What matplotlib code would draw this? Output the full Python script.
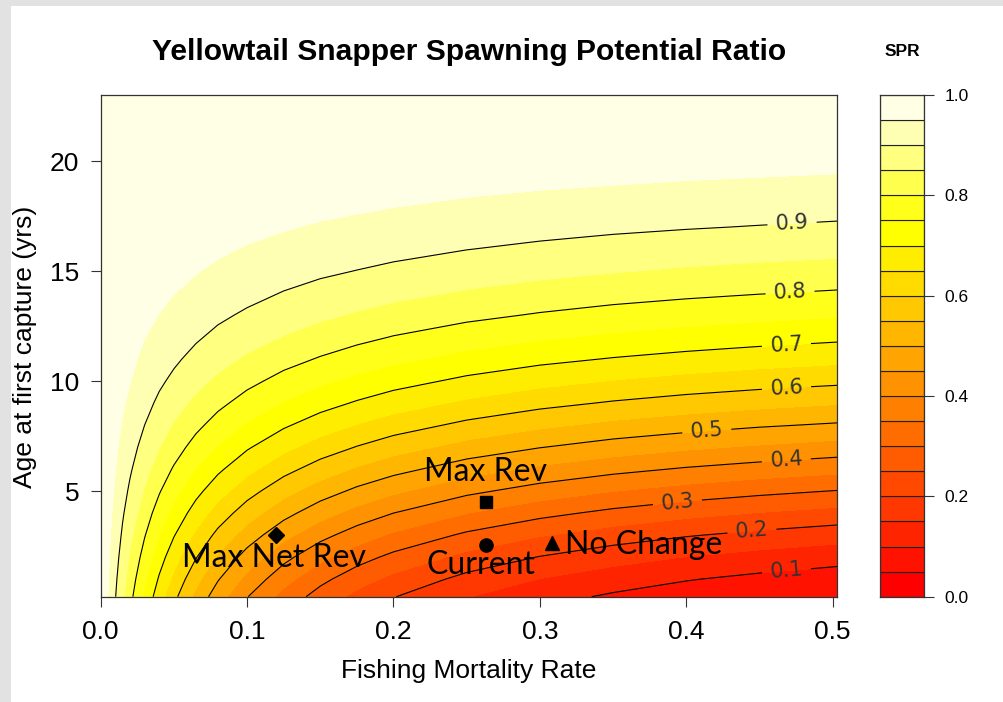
import numpy as np
import matplotlib
matplotlib.use('Agg')
import matplotlib.pyplot as plt
from matplotlib.colors import hsv_to_rgb
from matplotlib.patches import Rectangle

# ---------------- data ----------------
fishing_mortality = [0, 0.005, 0.01, 0.015, 0.02, 0.03, 0.04, 0.05, 0.065, 0.08, 0.1,
                     0.125, 0.15, 0.175, 0.2, 0.25, 0.3, 0.35, 0.4, 0.45, 0.503]
age_first_capture = [0.2, 1, 2, 3, 4, 5, 6, 7, 8, 9, 10, 11, 12, 13, 14, 15, 16, 17,
                     18, 19, 20, 21.5, 23]
# SPR x 1000, one row per age at first capture, one column per fishing mortality
spr_x1000 = [
    [1000, 949, 902, 857, 815, 739, 672, 613, 537, 473, 402, 333, 279, 236, 202, 152, 117, 93, 75, 62, 51],
    [1000, 953, 909, 867, 828, 757, 694, 638, 565, 504, 436, 368, 314, 271, 237, 185, 149, 123, 103, 88, 76],
    [1000, 958, 918, 880, 845, 780, 722, 670, 603, 545, 480, 415, 363, 321, 287, 235, 198, 170, 149, 132, 118],
    [1000, 962, 927, 893, 861, 803, 750, 703, 641, 587, 527, 465, 416, 376, 342, 291, 254, 226, 204, 187, 172],
    [1000, 967, 935, 905, 877, 825, 777, 735, 678, 629, 574, 517, 470, 432, 400, 351, 315, 287, 265, 248, 233],
    [1000, 971, 943, 917, 892, 846, 804, 765, 715, 670, 620, 567, 525, 489, 459, 412, 378, 351, 330, 313, 298],
    [1000, 975, 951, 928, 906, 865, 828, 795, 749, 710, 664, 617, 577, 544, 517, 473, 440, 415, 395, 379, 365],
    [1000, 978, 957, 938, 919, 883, 851, 822, 782, 747, 706, 663, 628, 598, 572, 532, 502, 478, 459, 444, 430],
    [1000, 981, 964, 947, 931, 900, 872, 846, 812, 781, 745, 707, 675, 648, 625, 588, 560, 538, 521, 506, 494],
    [1000, 984, 969, 955, 941, 915, 891, 869, 839, 812, 781, 747, 719, 695, 674, 641, 615, 595, 579, 566, 554],
    [1000, 987, 974, 962, 951, 929, 908, 890, 864, 841, 813, 784, 759, 738, 719, 689, 666, 648, 633, 621, 611],
    [1000, 989, 979, 969, 959, 941, 924, 908, 886, 866, 843, 817, 796, 777, 761, 734, 713, 697, 684, 673, 663],
    [1000, 991, 983, 974, 967, 951, 937, 924, 906, 889, 869, 848, 829, 813, 798, 775, 757, 742, 730, 720, 711],
    [1000, 993, 986, 979, 973, 961, 949, 938, 923, 909, 893, 875, 859, 845, 832, 812, 796, 783, 772, 763, 755],
    [1000, 994, 989, 984, 979, 969, 960, 951, 939, 927, 914, 898, 885, 873, 863, 845, 831, 819, 810, 802, 795],
    [1000, 996, 991, 987, 983, 976, 968, 962, 952, 943, 932, 919, 908, 899, 890, 875, 863, 853, 844, 837, 831],
    [1000, 997, 994, 990, 987, 982, 976, 971, 963, 956, 947, 938, 929, 921, 914, 901, 891, 882, 875, 869, 864],
    [1000, 998, 995, 993, 991, 987, 982, 978, 973, 967, 961, 953, 946, 940, 934, 924, 916, 909, 903, 898, 893],
    [1000, 998, 997, 995, 994, 991, 988, 985, 981, 977, 972, 966, 961, 957, 952, 944, 938, 932, 927, 923, 919],
    [1000, 999, 998, 997, 996, 994, 992, 990, 987, 985, 981, 977, 974, 970, 967, 961, 956, 952, 948, 945, 942],
    [1000, 999, 999, 998, 997, 996, 995, 994, 992, 991, 989, 986, 984, 981, 979, 976, 972, 969, 966, 964, 961],
    [1000, 1000, 1000, 999, 999, 999, 998, 998, 997, 997, 996, 995, 994, 993, 993, 991, 989, 988, 987, 986, 984],
    [1000, 1000, 1000, 1000, 1000, 1000, 1000, 1000, 1000, 1000, 1000, 1000, 999, 999, 999, 999, 999, 999, 998, 998, 998],
]
fill_levels = [0.00, 0.05, 0.10, 0.15, 0.20, 0.25, 0.30, 0.35, 0.40, 0.45, 0.50,
               0.55, 0.60, 0.65, 0.70, 0.75, 0.80, 0.85, 0.90, 0.95, 1.00]
line_levels = [0.1, 0.2, 0.3, 0.4, 0.5, 0.6, 0.7, 0.8, 0.9]
x_ticks = [0.0, 0.1, 0.2, 0.3, 0.4, 0.5]
y_ticks = [5, 10, 15, 20]
key_ticks = [0.0, 0.2, 0.4, 0.6, 0.8, 1.0]

scenario_names = ["Max Net Rev", "Max Rev", "Current", "No Change"]
scenario_F = [0.1196, 0.2634, 0.2634, 0.3083]
scenario_tc = [2.99, 4.51, 2.57, 2.65]

title = "Yellowtail Snapper Spawning Potential Ratio"
x_label = "Fishing Mortality Rate"
y_label = "Age at first capture (yrs)"
key_title = "SPR"

# ---------------- styling ----------------
W, H = 1004, 702
fig = plt.figure(figsize=(W / 100, H / 100), dpi=100)
fig.patch.set_facecolor('#e2e2e2')
fig.add_artist(Rectangle((11 / W, 0), 1, (H - 6) / H, transform=fig.transFigure,
                         facecolor='white', edgecolor='none', zorder=0))

# R heat.colors(20)
n = len(fill_levels) - 1
j = n // 4
i = n - j
heat = [hsv_to_rgb((h, 1, 1)) for h in np.linspace(0, 1 / 6, i)]
heat += [hsv_to_rgb((1 / 6, s, 1)) for s in np.linspace(1 - 1 / (2 * j), 1 / (2 * j), j)]

def fx(px):
    return px / W

def fy(py):
    return 1 - py / H

left, right, top, bottom = 100.7, 837.0, 95.0, 596.7
ax = fig.add_axes([fx(left), fy(bottom), fx(right) - fx(left), fy(top) - fy(bottom)])

Z = np.array(spr_x1000) / 1000.0
ax.contourf(fishing_mortality, age_first_capture, Z, levels=fill_levels, colors=heat)
cs = ax.contour(fishing_mortality, age_first_capture, Z, levels=line_levels,
                colors='black', linewidths=0.8)
label_pos = [(0.4684, 1.48), (0.445, 3.11), (0.394, 4.48), (0.4684, 6.39), (0.414, 7.75),
             (0.4684, 9.8), (0.4684, 11.7), (0.471, 13.93), (0.4725, 16.9)]
ax.clabel(cs, inline=True, fmt='%.1f', fontsize=15, colors='#333333',
          manual=label_pos, inline_spacing=8)

ax.set_xlim(0, 0.503)
ax.set_ylim(0.2, 23)
ax.set_xticks(x_ticks)
ax.set_xticklabels(["%.1f" % v for v in x_ticks])
ax.set_yticks(y_ticks)
ax.set_yticklabels(["%d" % v for v in y_ticks])
for lab in ax.get_xticklabels() + ax.get_yticklabels():
    lab.set_family('Liberation Sans')
ax.tick_params(axis='x', length=7.5, width=0.8, pad=9, labelsize=19, color='#333333')
ax.tick_params(axis='y', length=7.5, width=0.8, pad=8, labelsize=19, color='#333333')
for sp in ax.spines.values():
    sp.set_linewidth(0.9)
    sp.set_color('#333333')

markers = ['D', 's', 'o', '^']
msizes = [8, 9, 9.5, 10.5]
for k in range(len(scenario_names)):
    ax.plot(scenario_F[k], scenario_tc[k], marker=markers[k], markersize=msizes[k],
            color='black', linestyle='none', zorder=5)

ann = dict(family='Lato', fontsize=23, color='black', zorder=6)
ax.text(0.1186, 1.96, scenario_names[0], ha='center', va='center', **ann)
ax.text(0.2627, 5.86, scenario_names[1], ha='center', va='center', **ann)
ax.text(0.2597, 1.66, scenario_names[2], ha='center', va='center', **ann)
ax.text(0.3173, 2.55, scenario_names[3], ha='left', va='center', **ann)

# key
kax = fig.add_axes([fx(880), fy(bottom), fx(924.5) - fx(880), fy(top) - fy(bottom)])
for k in range(n):
    kax.add_patch(Rectangle((0, fill_levels[k]), 1, fill_levels[k + 1] - fill_levels[k],
                            facecolor=heat[k], edgecolor='#222222', linewidth=0.8))
kax.set_xlim(0, 1)
kax.set_ylim(0, 1)
kax.set_xticks([])
kax.yaxis.tick_right()
kax.set_yticks(key_ticks)
kax.set_yticklabels(["%.1f" % v for v in key_ticks], family='Liberation Sans')
kax.tick_params(axis='y', length=7.5, width=0.8, pad=7, labelsize=12.5, color='#333333')
for sp in kax.spines.values():
    sp.set_linewidth(0.9)
    sp.set_color('#333333')

fig.text(fx(468.9), fy(52), title, ha='center', va='center', fontsize=21.6,
         fontweight='bold', family='Liberation Sans')
fig.text(fx(902), fy(52), key_title, ha='center', va='center', fontsize=12.5,
         fontweight='bold', family='Liberation Sans')
fig.text(fx(468.9), fy(671), x_label, ha='center', va='center', fontsize=19,
         family='Liberation Sans')
fig.text(fx(25), fy(346.5), y_label, ha='center', va='center', fontsize=19,
         rotation=90, family='Liberation Sans')

fig.savefig('out.png', dpi=100)
